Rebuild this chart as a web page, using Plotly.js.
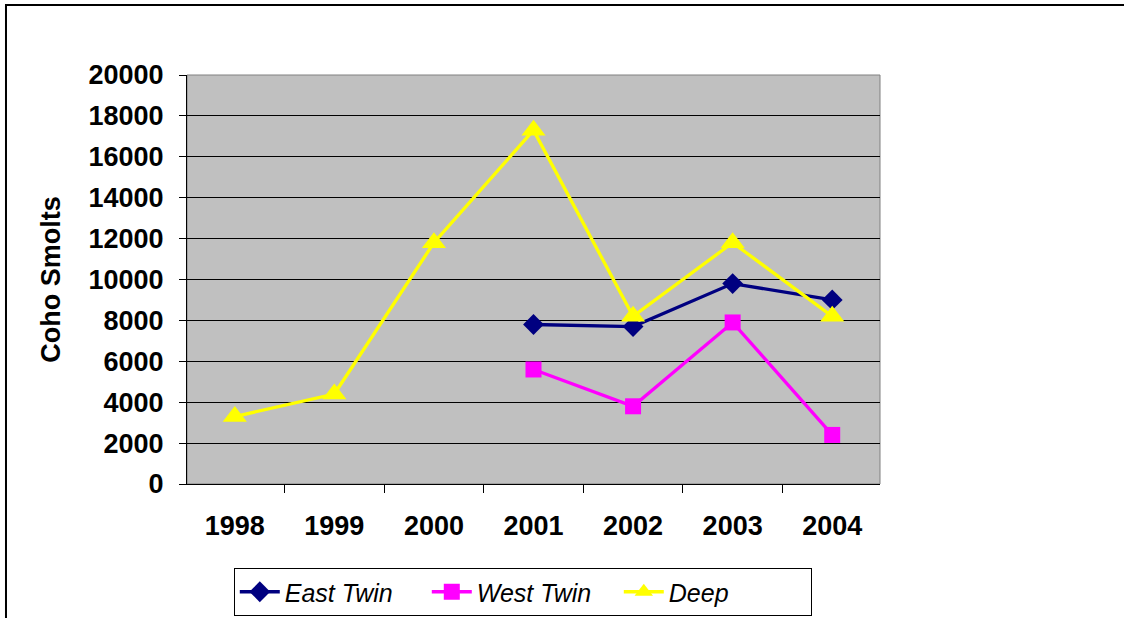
<!DOCTYPE html>
<html>
<head>
<meta charset="utf-8">
<script src="https://cdn.plot.ly/plotly-3.0.1.min.js"></script>
<style>
html,body{margin:0;padding:0;background:#fff;}
#chart{width:1124px;height:618px;}
</style>
</head>
<body>
<div id="chart"></div>
<script>
var years = ['1998','1999','2000','2001','2002','2003','2004'];
var eastTwin = [null, null, null, 7800, 7700, 9800, 9000];
var westTwin = [null, null, null, 5600, 3800, 7900, 2400];
var deep = [3300, 4400, 11800, 17300, 8200, 11800, 8200];
var yTicks = [0,2000,4000,6000,8000,10000,12000,14000,16000,18000,20000];

var traces = [
  {x: years, y: eastTwin, name: 'East Twin', type: 'scatter', mode: 'lines+markers',
   line: {color: '#000080', width: 3.3}, marker: {symbol: 'diamond', size: 16, color: '#000080'}},
  {x: years, y: westTwin, name: 'West Twin', type: 'scatter', mode: 'lines+markers',
   line: {color: '#FF00FF', width: 3.3}, marker: {symbol: 'square', size: 16, color: '#FF00FF'}},
  {x: years, y: deep, name: 'Deep', type: 'scatter', mode: 'lines+markers',
   line: {color: '#FFFF00', width: 3.3}, marker: {symbol: 'triangle-up', size: 21, color: '#FFFF00'}}
];

var layout = {
  width: 1124, height: 618,
  margin: {l: 187, r: 244, t: 75, b: 134},
  paper_bgcolor: '#ffffff',
  plot_bgcolor: '#C0C0C0',
  font: {family: 'Liberation Sans, Arial, sans-serif', color: '#000'},
  showlegend: true,
  legend: {orientation: 'h', xref: 'container', yref: 'container',
           x: 0.208, xanchor: 'left', y: 0.0809, yanchor: 'top',
           bgcolor: '#ffffff', bordercolor: '#000', borderwidth: 1,
           font: {size: 25, style: 'italic', family: 'Liberation Sans, Arial, sans-serif'},
           itemwidth: 40, tracegroupgap: 0, entrywidth: 137, entrywidthmode: 'pixels'},
  xaxis: {type: 'category', tickson: 'boundaries', ticks: 'outside', ticklen: 8,
          tickcolor: '#000', showline: true, linecolor: '#000', linewidth: 1,
          showgrid: false, zeroline: false, ticklabelstandoff: 18, automargin: false,
          tickfont: {size: 27, weight: 'bold'}, fixedrange: true},
  yaxis: {range: [0, 20000], tickvals: yTicks, ticktext: yTicks.map(String),
          ticks: 'outside', ticklen: 7, tickcolor: '#000',
          showline: true, linecolor: '#000', linewidth: 1,
          showgrid: true, gridcolor: '#000', gridwidth: 1, zeroline: false,
          ticklabelstandoff: 10, automargin: false,
          tickfont: {size: 27, weight: 'bold'},
          title: {text: 'Coho Smolts', font: {size: 27, weight: 'bold'}, standoff: 20},
          fixedrange: true},
  shapes: [
    {type: 'rect', xref: 'paper', yref: 'paper', x0: 0, x1: 1, y0: 0, y1: 1,
     line: {color: '#808080', width: 1}, layer: 'below'},
    {type: 'rect', xref: 'paper', yref: 'paper', x0: -0.2612, x1: 1.5, y0: -0.5, y1: 1.1711,
     line: {color: '#000', width: 2}, layer: 'above'}
  ]
};

Plotly.newPlot('chart', traces, layout, {displayModeBar: false, staticPlot: true});
</script>
</body>
</html>
